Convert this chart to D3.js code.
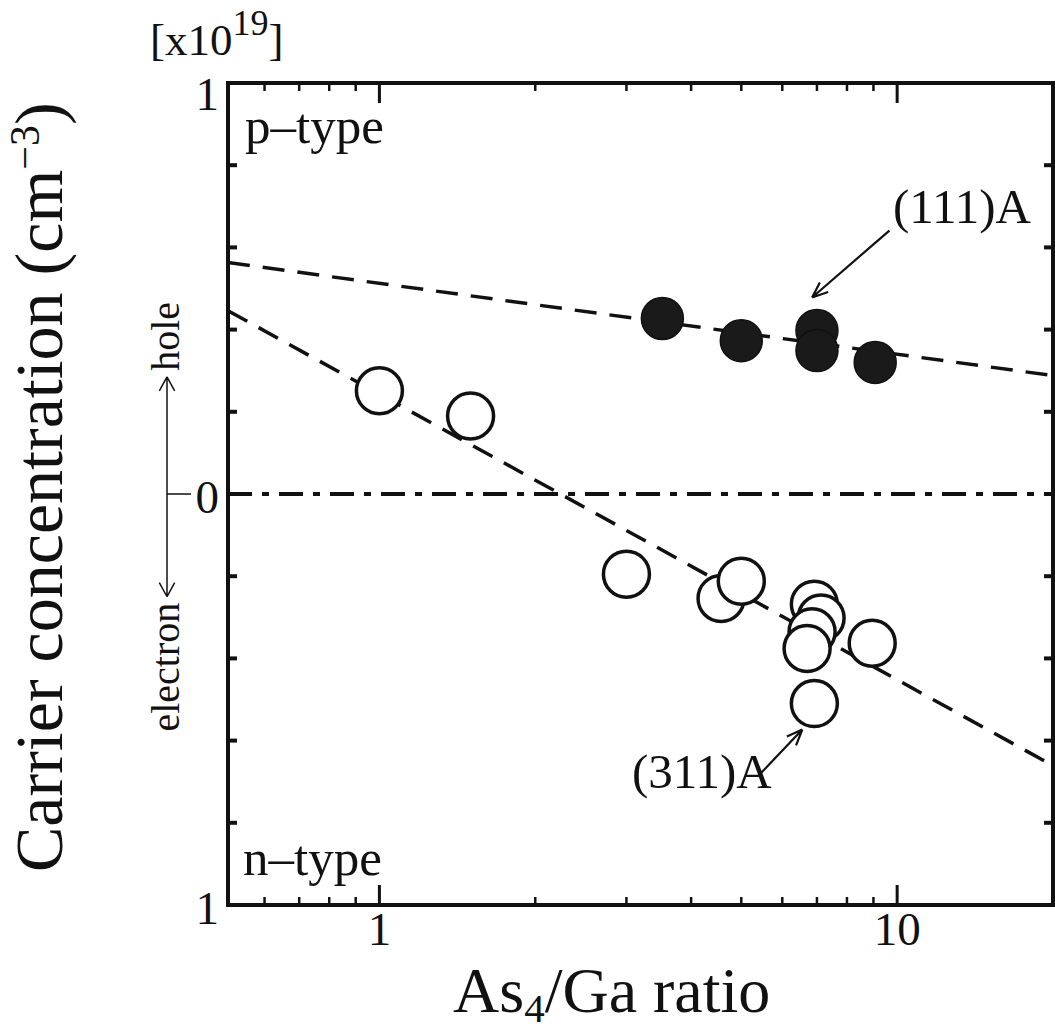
<!DOCTYPE html>
<html>
<head>
<meta charset="utf-8">
<script src="https://cdn.jsdelivr.net/npm/d3@7"></script>
<style>
  html, body { margin: 0; padding: 0; background: #fff; }
  svg text { font-family: "Liberation Serif", "Times New Roman", serif; fill: #111; }
</style>
</head>
<body>
<svg id="chart" width="1055" height="1032"></svg>
<script>
// ---- data ----
const xDomain = [0.51, 20];          // As4/Ga ratio (log)
const yDomain = [-1, 1];             // carrier concentration [x10^19], holes > 0, electrons < 0

// (111)A : p-type, filled circles  [ratio, conc]
const points111A = [
  [3.52, 0.427], [5.0, 0.373], [7.0, 0.398], [7.0, 0.349], [9.07, 0.320]
];
// (311)A : open circles
const points311A = [
  [1.0, 0.251], [1.5, 0.190], [3.0, -0.195], [4.57, -0.254], [5.0, -0.212],
  [6.92, -0.268], [7.13, -0.302], [6.85, -0.335], [6.7, -0.376],
  [8.95, -0.363], [6.92, -0.510]
];
// dashed guide lines [ratio, conc] end points
const line111A = [[0.51, 0.563], [20, 0.288]];
const line311A = [[0.51, 0.446], [20, -0.661]];

const yTicks = [-1, -0.8, -0.6, -0.4, -0.2, 0, 0.2, 0.4, 0.6, 0.8, 1];
const yTickLabels = [[1, '1'], [0, '0'], [-1, '1']];
const xMajor = [1, 10];
const xMinor = [0.6, 0.7, 0.8, 0.9, 2, 3, 4, 5, 6, 7, 8, 9];
const xTickLabels = [[1, '1'], [10, '10']];

// annotation arrows: [from, to] in data units
const arrow111A = [[9.66, 0.641], [6.85, 0.478]];
const arrow311A = [[5.42, -0.683], [6.56, -0.573]];
const holeElectronTips = [0.285, -0.25];

// ---- layout ----
const margin = { top: 83, right: 2, bottom: 127, left: 228 };
const svg = d3.select('#chart');
const W = +svg.attr('width'), H = +svg.attr('height');
const width = W - margin.left - margin.right;
const height = H - margin.top - margin.bottom;

const x = d3.scaleLog().domain(xDomain).range([0, width]);
const y = d3.scaleLinear().domain(yDomain).range([height, 0]);

const g = svg.append('g').attr('transform', `translate(${margin.left},${margin.top})`);

svg.append('defs').append('clipPath').attr('id', 'plot-clip')
  .append('rect').attr('width', width).attr('height', height);

// ---- ticks (all pointing inward) ----
const tickG = g.append('g').attr('stroke', '#111');
xMajor.forEach(v => {
  tickG.append('line').attr('x1', x(v)).attr('x2', x(v)).attr('y1', height).attr('y2', height - 20).attr('stroke-width', 3);
  tickG.append('line').attr('x1', x(v)).attr('x2', x(v)).attr('y1', 0).attr('y2', 20).attr('stroke-width', 3);
});
xMinor.forEach(v => {
  tickG.append('line').attr('x1', x(v)).attr('x2', x(v)).attr('y1', height).attr('y2', height - 8).attr('stroke-width', 2.5);
  tickG.append('line').attr('x1', x(v)).attr('x2', x(v)).attr('y1', 0).attr('y2', 8).attr('stroke-width', 2.5);
});
yTicks.forEach(v => {
  tickG.append('line').attr('x1', 0).attr('x2', 9).attr('y1', y(v)).attr('y2', y(v)).attr('stroke-width', 4);
  tickG.append('line').attr('x1', width).attr('x2', width - 9).attr('y1', y(v)).attr('y2', y(v)).attr('stroke-width', 4);
});

// frame
g.append('rect').attr('width', width).attr('height', height)
  .attr('fill', 'none').attr('stroke', '#111').attr('stroke-width', 4);

// tick labels (top one sits a bit below its tick, as in the original)
g.selectAll('text.ylab').data(yTickLabels).enter().append('text')
  .attr('class', 'ylab')
  .attr('x', -9).attr('y', d => y(d[0]) + (d[0] === 1 ? 27 : 19))
  .attr('text-anchor', 'end').attr('font-size', 47)
  .text(d => d[1]);
g.selectAll('text.xlab').data(xTickLabels).enter().append('text')
  .attr('class', 'xlab')
  .attr('x', d => x(d[0])).attr('y', height + 40)
  .attr('text-anchor', 'middle').attr('font-size', 47)
  .text(d => d[1]);

// ---- lines ----
const plot = g.append('g').attr('clip-path', 'url(#plot-clip)');
const lineGen = d3.line().x(d => x(d[0])).y(d => y(d[1]));

plot.append('line')
  .attr('x1', 0).attr('x2', width).attr('y1', y(0)).attr('y2', y(0))
  .attr('stroke', '#111').attr('stroke-width', 4)
  .attr('stroke-dasharray', '24,10,7,10');

[line111A, line311A].forEach(l => {
  plot.append('path').datum(l).attr('d', lineGen)
    .attr('fill', 'none').attr('stroke', '#111').attr('stroke-width', 3.5)
    .attr('stroke-dasharray', '22,13');
});

// ---- points ----
plot.selectAll('circle.p111').data(points111A).enter().append('circle')
  .attr('class', 'p111')
  .attr('cx', d => x(d[0])).attr('cy', d => y(d[1])).attr('r', 21)
  .attr('fill', '#1a1a1a').attr('stroke', '#111').attr('stroke-width', 1.5);

plot.selectAll('circle.p311').data(points311A).enter().append('circle')
  .attr('class', 'p311')
  .attr('cx', d => x(d[0])).attr('cy', d => y(d[1])).attr('r', 23)
  .attr('fill', '#fff').attr('stroke', '#111').attr('stroke-width', 3.5);

// ---- annotation arrows ----
function arrowPath(x1, y1, x2, y2, len, spread) {
  const a = Math.atan2(y2 - y1, x2 - x1);
  const p = d3.path();
  p.moveTo(x1, y1); p.lineTo(x2, y2);
  [a + Math.PI - spread, a + Math.PI + spread].forEach(b => {
    p.moveTo(x2, y2);
    p.lineTo(x2 + len * Math.cos(b), y2 + len * Math.sin(b));
  });
  return p.toString();
}
[arrow111A, arrow311A].forEach(ar => {
  g.append('path')
    .attr('d', arrowPath(x(ar[0][0]), y(ar[0][1]), x(ar[1][0]), y(ar[1][1]), 17, 0.38))
    .attr('fill', 'none').attr('stroke', '#111').attr('stroke-width', 2.2);
});

// hole / electron double arrow at left
const ax = -61;
g.append('path')
  .attr('d', arrowPath(ax, y(0), ax, y(holeElectronTips[0]), 16, 0.5) +
             arrowPath(ax, y(0), ax, y(holeElectronTips[1]), 16, 0.5))
  .attr('fill', 'none').attr('stroke', '#111').attr('stroke-width', 1.5);
g.append('line').attr('x1', ax).attr('x2', ax + 24).attr('y1', y(0)).attr('y2', y(0))
  .attr('stroke', '#111').attr('stroke-width', 1.5);

g.append('text')
  .attr('transform', `translate(${ax + 12},${y(holeElectronTips[0]) - 6}) rotate(-90)`)
  .attr('font-size', 40).attr('text-anchor', 'start').text('hole');
g.append('text')
  .attr('transform', `translate(${ax + 12},${y(holeElectronTips[1]) + 6}) rotate(-90)`)
  .attr('font-size', 40).attr('text-anchor', 'end').text('electron');

// ---- labels ----
g.append('text').attr('x', 17).attr('y', 60).attr('font-size', 51).text('p\u2013type');
g.append('text').attr('x', 15).attr('y', 792).attr('font-size', 51).text('n\u2013type');
g.append('text').attr('x', 665).attr('y', 140).attr('font-size', 49).text('(111)A');
g.append('text').attr('x', 404).attr('y', 705).attr('font-size', 49).text('(311)A');

// unit label
const unit = svg.append('text').attr('x', 150).attr('y', 55).attr('font-size', 45);
unit.append('tspan').text('[x10');
unit.append('tspan').attr('dy', -20).attr('font-size', 36).text('19');
unit.append('tspan').attr('dy', 20).text(']');

// axis titles
const yt = svg.append('text')
  .attr('transform', 'translate(62,872) rotate(-90)')
  .attr('text-anchor', 'start').attr('font-size', 68);
yt.append('tspan').text('Carrier concentration (cm');
yt.append('tspan').attr('dy', -23).attr('font-size', 42).text('\u22123');
yt.append('tspan').attr('dy', 23).text(')');

const xt = svg.append('text').attr('x', 453).attr('y', 1012).attr('font-size', 64);
xt.append('tspan').text('As');
xt.append('tspan').attr('dy', 10).attr('font-size', 41).text('4');
xt.append('tspan').attr('dy', -10).text('/Ga ratio');
</script>
</body>
</html>
